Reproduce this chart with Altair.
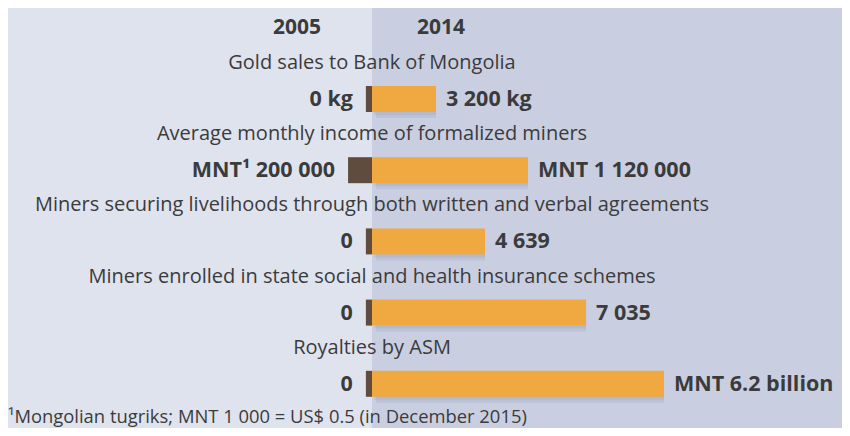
import altair as alt
import pandas as pd

# ---- data ----
indicators = [
    "Gold sales to Bank of Mongolia",
    "Average monthly income of formalized miners",
    "Miners securing livelihoods through both written and verbal agreements",
    "Miners enrolled in state social and health insurance schemes",
    "Royalties by ASM",
]
labels_2005 = ["0 kg", "MNT\u00b9 200 000", "0", "0", "0"]
labels_2014 = ["3 200 kg", "MNT 1 120 000", "4 639", "7 035", "MNT 6.2 billion"]
# relative (illustrative) bar lengths as drawn in the infographic, longest = 100
bar_2005 = [2.1, 8.2, 2.1, 2.1, 2.1]
bar_2014 = [21.9, 53.4, 38.7, 73.3, 100.0]
years = ["2005", "2014"]
footnote = "\u00b9Mongolian tugriks; MNT 1 000 = US$ 0.5 (in December 2015)"

df = pd.DataFrame({
    "row": list(range(len(indicators))),
    "indicator": indicators,
    "l05": labels_2005,
    "l14": labels_2014,
    "v05": [-v for v in bar_2005],
    "v14": bar_2014,
    "zero": [0.0] * len(indicators),
})

W, H = 834, 420
PX_PER_UNIT = 2.92
ZERO_PX = 364
x0 = -ZERO_PX / PX_PER_UNIT
x1 = x0 + W / PX_PER_UNIT
ROW_PX = 71.2
ROW0_PX = 91
y0 = -ROW0_PX / ROW_PX
y1 = y0 + H / ROW_PX

xs = alt.Scale(domain=[x0, x1], nice=False, zero=False)
ys = alt.Scale(domain=[y0, y1], nice=False, zero=False, reverse=True)

TEXT = "#3b3b3b"
FONT = "Open Sans"
LEFT_BG = "#dfe3ee"
RIGHT_BG = "#c9cfe1"
BROWN = "#5f4c3e"
ORANGE = "#efa940"

base = alt.Chart(df)

right_bg = base.mark_rect(color=RIGHT_BG).encode(
    x=alt.value(ZERO_PX), x2=alt.value(W), y=alt.value(0), y2=alt.value(H)
).transform_filter("datum.row == 0")

X = alt.X("zero:Q", scale=xs, axis=None)
Y = alt.Y("row:Q", scale=ys, axis=None)

shadow1 = base.mark_rule(strokeWidth=26, strokeCap="butt", color="#6d7290",
                         opacity=0.12, xOffset=4, yOffset=6).encode(
    x=X, x2="v14:Q", y=Y)
shadow2 = base.mark_rule(strokeWidth=26, strokeCap="butt", color="#6d7290",
                         opacity=0.12, xOffset=2, yOffset=3).encode(
    x=X, x2="v14:Q", y=Y)

bar05 = base.mark_rule(strokeWidth=26, strokeCap="butt", color=BROWN).encode(
    x=alt.X("v05:Q", scale=xs, axis=None), x2="zero:Q", y=Y)
bar14 = base.mark_rule(strokeWidth=26, strokeCap="butt", color=ORANGE).encode(
    x=X, x2="v14:Q", y=Y)

titles = base.mark_text(font=FONT, fontSize=20, color=TEXT, align="center",
                        baseline="alphabetic", dy=-30).encode(
    x=X, y=Y, text="indicator:N")

t05 = base.mark_text(font=FONT, fontSize=21.5, fontWeight="bold", color=TEXT,
                     align="right", baseline="middle", dx=-13, dy=1).encode(
    x=alt.X("v05:Q", scale=xs, axis=None), y=Y, text="l05:N")
t14 = base.mark_text(font=FONT, fontSize=21.5, fontWeight="bold", color=TEXT,
                     align="left", baseline="middle", dx=10, dy=1).encode(
    x=alt.X("v14:Q", scale=xs, axis=None), y=Y, text="l14:N")

hdr = pd.DataFrame({"year": years, "px": [289, 433]})
headers = alt.Chart(hdr).mark_text(font=FONT, fontSize=21, fontWeight="bold",
                                   color=TEXT, align="center",
                                   baseline="alphabetic").encode(
    x=alt.X("px:Q", scale=None), y=alt.value(26), text="year:N")

fn = alt.Chart(pd.DataFrame({"t": [footnote]})).mark_text(
    font=FONT, fontSize=18.4, color=TEXT, align="left", baseline="alphabetic"
).encode(x=alt.value(0), y=alt.value(415), text="t:N")

chart = alt.layer(right_bg, shadow1, shadow2, bar05, bar14, titles, t05, t14,
                  headers, fn).properties(
    width=W, height=H, padding=0, autosize=alt.AutoSizeParams(type="none"),
    background=LEFT_BG
).configure_view(stroke=None)

chart.save("out.html", embed_options={"renderer": "svg", "actions": False})
